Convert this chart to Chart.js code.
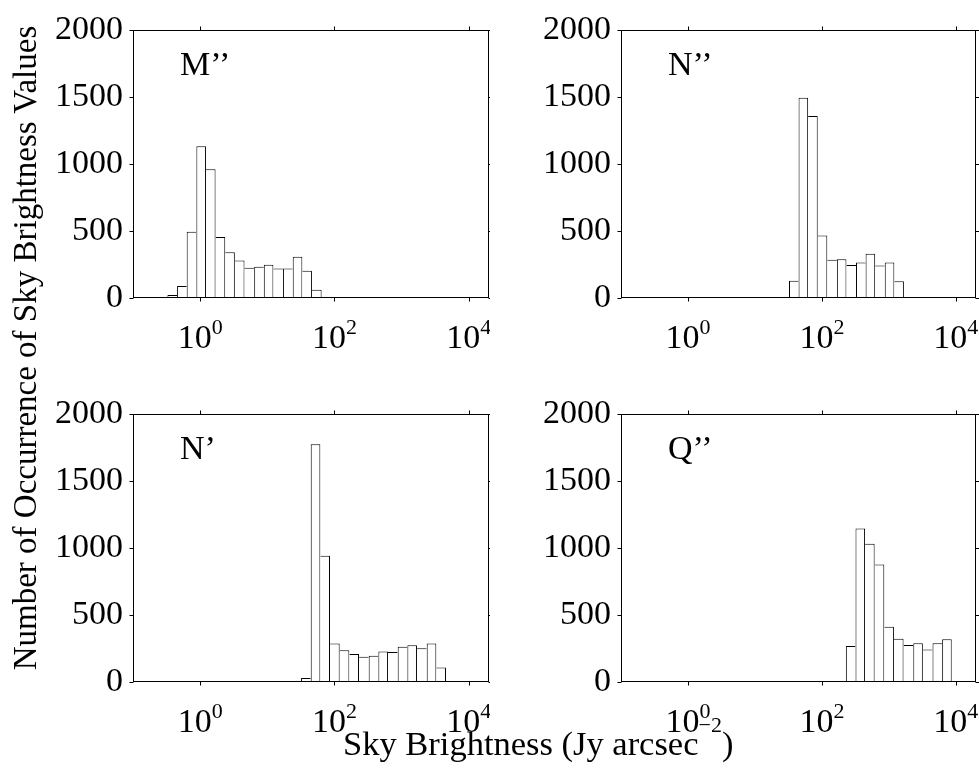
<!DOCTYPE html>
<html>
<head>
<meta charset="utf-8">
<script src="https://cdn.jsdelivr.net/npm/chart.js@4.4.0/dist/chart.umd.min.js"></script>
<style>
  body { margin: 0; background: #fff; }
  #page { position: relative; width: 979px; height: 774px; overflow: hidden; background: #fff; }
  canvas { position: absolute; }
  .title { position: absolute; font-family: "Liberation Serif", "Times New Roman", serif; font-size: 34px; line-height: 34px; color: #000; white-space: nowrap; }
  #ytitle { left: -325px; top: 331px; width: 700px; text-align: center; transform: rotate(-90deg); font-size: 33px; }
  #xtitle { left: 343px; top: 726px; font-size: 34.5px; }
  #xtitle span { position: relative; top: -23px; font-size: 22px; }
</style>
</head>
<body>
<div id="page">
  <canvas id="mPanel" width="490" height="350" style="left:0px;top:0px"></canvas>
  <canvas id="nnPanel" width="489" height="350" style="left:490px;top:0px"></canvas>
  <canvas id="nPanel" width="490" height="350" style="left:0px;top:384px"></canvas>
  <canvas id="qPanel" width="489" height="350" style="left:490px;top:384px"></canvas>
  <div class="title" id="ytitle">Number of Occurrence of Sky Brightness Values</div>
  <div class="title" id="xtitle">Sky Brightness (Jy arcsec<span>−2</span>)</div>
</div>
<script>
// tick labels
const yTicks = [0, 500, 1000, 1500, 2000];
const xTickPowers = [0, 2, 4];
const xMin = 0.1;
const xMax = 20000;

// bin centres (log10 of Jy arcsec^-2) and counts
const mLabel = "M’’";
const mBinsLog = [-0.559, -0.416, -0.272, -0.129, 0.015, 0.158, 0.302, 0.445, 0.589, 0.732, 0.876, 1.019, 1.163, 1.306, 1.45, 1.593, 1.737];
const mCounts = [8, 22, 90, 495, 1135, 962, 455, 342, 281, 226, 233, 248, 221, 221, 308, 203, 62];

const nnLabel = "N’’";
const nnBinsLog = [1.58, 1.723, 1.866, 2.009, 2.152, 2.295, 2.438, 2.581, 2.724, 2.867, 3.01, 3.153];
const nnCounts = [129, 1497, 1361, 467, 285, 290, 246, 266, 330, 243, 265, 125];

const nLabel = "N’";
const nBinsLog = [1.574, 1.718, 1.862, 2.006, 2.15, 2.294, 2.438, 2.581, 2.725, 2.869, 3.013, 3.157, 3.301, 3.445, 3.589];
const nCounts = [29, 1776, 943, 288, 238, 209, 188, 197, 228, 224, 264, 274, 252, 288, 109];

const qLabel = "Q’’";
const qBinsLog = [2.285, 2.429, 2.573, 2.716, 2.86, 3.004, 3.148, 3.292, 3.436, 3.579, 3.723, 3.867];
const qCounts = [5, 269, 1147, 1033, 879, 412, 324, 276, 290, 243, 290, 319];

const serif = '"Liberation Serif", "Times New Roman", serif';

// box, outward ticks on all four sides, 10^n labels and the panel name
const framePlugin = {
  id: "frame",
  afterDraw(chart, args, opts) {
    const ctx = chart.ctx;
    const a = chart.chartArea;
    const xs = chart.scales.x;
    const ys = chart.scales.y;
    const l = Math.round(a.left) + 0.5;
    const r = Math.round(a.right) - 0.5;
    const t = Math.round(a.top) + 0.5;
    const b = Math.round(a.bottom) - 0.5;
    ctx.save();
    ctx.strokeStyle = "#000";
    ctx.lineWidth = 1;
    ctx.strokeRect(l, t, r - l, b - t);
    ctx.beginPath();
    yTicks.forEach((v) => {
      const y = Math.round(ys.getPixelForValue(v)) + 0.5;
      ctx.moveTo(l - 4, y); ctx.lineTo(l, y);
      ctx.moveTo(r, y); ctx.lineTo(r + 4, y);
    });
    xTickPowers.forEach((p) => {
      const x = Math.round(xs.getPixelForValue(Math.pow(10, p))) + 0.5;
      ctx.moveTo(x, b); ctx.lineTo(x, b + 4);
      ctx.moveTo(x, t); ctx.lineTo(x, t - 4);
    });
    ctx.stroke();

    ctx.fillStyle = "#000";
    ctx.textBaseline = "alphabetic";
    ctx.textAlign = "left";
    xTickPowers.forEach((p) => {
      const x = xs.getPixelForValue(Math.pow(10, p));
      ctx.font = "34px " + serif;
      const wBase = ctx.measureText("10").width;
      ctx.font = "22px " + serif;
      const wExp = ctx.measureText(String(p)).width;
      const x0 = x - (wBase + wExp) / 2;
      ctx.font = "34px " + serif;
      ctx.fillText("10", x0, a.bottom + 50);
      ctx.font = "22px " + serif;
      ctx.fillText(String(p), x0 + wBase, a.bottom + 36);
    });

    ctx.font = "34px " + serif;
    ctx.fillText(opts.label, a.left + 47, a.top + 45);
    ctx.restore();
  },
};

// draw each shared bar edge once, from the taller bar
function edgeWidths(c) {
  const d = c.dataset.data;
  const i = c.dataIndex;
  const v = d[i].y;
  const prev = i > 0 ? d[i - 1].y : 0;
  const next = i < d.length - 1 ? d[i + 1].y : 0;
  return { top: 1, left: prev <= v ? 1 : 0, right: next < v ? 1 : 0, bottom: 0 };
}

function makePanel(id, label, binsLog, counts, box) {
  const points = binsLog.map((c, i) => ({ x: Math.pow(10, c), y: counts[i] }));
  new Chart(document.getElementById(id), {
    type: "bar",
    data: {
      datasets: [
        {
          data: points,
          backgroundColor: "#fff",
          borderColor: "#000",
          borderWidth: edgeWidths,
          barPercentage: 1,
          categoryPercentage: 1,
          inflateAmount: 0,
        },
      ],
    },
    options: {
      responsive: false,
      animation: false,
      events: [],
      layout: { padding: { top: box.T, right: box.R, left: 0, bottom: 0 } },
      plugins: {
        legend: { display: false },
        tooltip: { enabled: false },
        frame: { label: label },
      },
      scales: {
        x: {
          type: "logarithmic",
          min: xMin,
          max: xMax,
          offset: false,
          grid: { display: false, drawTicks: false, offset: false },
          border: { display: false },
          ticks: { display: false },
          afterBuildTicks: (s) => {
            s.ticks = xTickPowers.map((p) => ({ value: Math.pow(10, p) }));
          },
          afterFit: (s) => {
            s.height = box.B;
          },
        },
        y: {
          min: 0,
          max: 2000,
          grid: { display: false, drawTicks: false },
          border: { display: false },
          afterBuildTicks: (s) => {
            s.ticks = yTicks.map((v) => ({ value: v }));
          },
          ticks: {
            padding: 10,
            color: "#000",
            font: { family: serif, size: 34 },
            callback: (v) => String(v),
          },
          afterFit: (s) => {
            s.width = box.L;
          },
        },
      },
    },
    plugins: [framePlugin],
  });
}

makePanel("mPanel", mLabel, mBinsLog, mCounts, { L: 133, T: 18, R: 1, B: 52 });
makePanel("nnPanel", nnLabel, nnBinsLog, nnCounts, { L: 131, T: 18, R: 3, B: 52 });
makePanel("nPanel", nLabel, nBinsLog, nCounts, { L: 133, T: 18, R: 1, B: 52 });
makePanel("qPanel", qLabel, qBinsLog, qCounts, { L: 131, T: 18, R: 3, B: 52 });
</script>
</body>
</html>
